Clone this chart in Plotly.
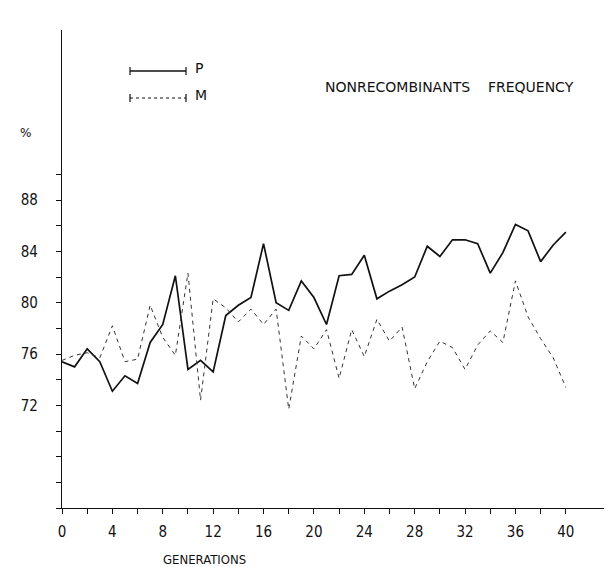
import plotly.graph_objects as go

generations = list(range(0, 41))
p_values = [75.4, 75.0, 76.4, 75.4, 73.1, 74.3, 73.7, 76.9, 78.3, 82.1,
            74.8, 75.5, 74.6, 79.0, 79.8, 80.4, 84.6, 80.0, 79.4, 81.7,
            80.4, 78.3, 82.1, 82.2, 83.7, 80.3, 80.9, 81.4, 82.0, 84.4,
            83.6, 84.9, 84.9, 84.6, 82.3, 83.9, 86.1, 85.6, 83.2, 84.5, 85.5]
m_values = [75.5, 75.9, 76.1, 75.7, 78.2, 75.4, 75.6, 79.8, 77.3, 75.9,
            82.3, 72.4, 80.3, 79.6, 78.5, 79.5, 78.3, 79.5, 71.7, 77.4,
            76.4, 77.9, 74.1, 77.9, 75.8, 78.7, 77.0, 78.1, 73.3, 75.4,
            77.0, 76.5, 74.8, 76.7, 77.8, 76.9, 81.7, 78.9, 77.2, 75.7, 73.4]
x_tick_labels = [0, 4, 8, 12, 16, 20, 24, 28, 32, 36, 40]
x_minor_ticks = list(range(0, 41, 2))
y_tick_labels = [72, 76, 80, 84, 88]
y_minor_ticks = list(range(64, 91, 2))

FONT = "Liberation Sans Narrow, DejaVu Sans Condensed, Liberation Sans, sans-serif"
TFONT = "DejaVu Sans, Liberation Sans, sans-serif"

# plot area in pixels
L, T, B = 54, 22, 500
W, H = 612 - L, B - T


def px_x(p):
    return (p - L) / W


def px_y(p):
    return 1 + (T - p) / H


fig = go.Figure()
fig.add_trace(go.Scatter(x=generations, y=p_values, mode="lines", name="P",
                         line=dict(color="#111111", width=1.7), showlegend=False))
fig.add_trace(go.Scatter(x=generations, y=m_values, mode="lines", name="M",
                         line=dict(color="#333333", width=1, dash="4px,4px"), showlegend=False))

fig.update_layout(
    width=612, height=567,
    margin=dict(l=L, r=0, t=T, b=567 - B),
    paper_bgcolor="white", plot_bgcolor="white",
    font=dict(family=FONT, size=15, color="#111111"),
    xaxis=dict(range=[0, 44.3], showgrid=False, zeroline=False,
               showline=True, linecolor="#111111", linewidth=1.3,
               tickmode="array", tickvals=x_tick_labels,
               ticktext=[str(v) for v in x_tick_labels],
               ticks="outside", ticklen=5, tickcolor="#111111",
               ticklabelstandoff=5,
               minor=dict(tickmode="array", tickvals=x_minor_ticks, ticks="outside",
                          ticklen=5, tickcolor="#111111")),
    yaxis=dict(range=[64, 101.25], showgrid=False, zeroline=False,
               showline=True, linecolor="#111111", linewidth=1.3,
               tickmode="array", tickvals=y_tick_labels,
               ticktext=[str(v) for v in y_tick_labels],
               ticks="outside", ticklen=5, tickcolor="#111111",
               ticklabelstandoff=15,
               minor=dict(tickmode="array", tickvals=y_minor_ticks, ticks="outside",
                          ticklen=5, tickcolor="#111111")),
)

# chart title text
fig.add_annotation(text="NONRECOMBINANTS&nbsp;&nbsp;&nbsp;&nbsp;FREQUENCY", xref="paper", yref="paper",
                   x=px_x(568), xanchor="right", y=px_y(79), yanchor="middle",
                   showarrow=False, font=dict(family=TFONT, size=14))

# y unit label
fig.add_annotation(text="%", xref="paper", yref="paper", x=px_x(17), y=px_y(125),
                   xanchor="center", yanchor="middle", showarrow=False,
                   font=dict(family=TFONT, size=12))
# x axis title
fig.add_annotation(text="GENERATIONS", xref="paper", yref="paper", x=px_x(196),
                   y=px_y(551), xanchor="center", yanchor="middle", showarrow=False,
                   font=dict(family="DejaVu Sans Condensed, Liberation Sans", size=13))

# legend samples (|---| style)
for label, ly, dash, w in [("P", 63, "solid", 1.5), ("M", 90, "dot", 1)]:
    fig.add_shape(type="line", xref="paper", yref="paper", x0=px_x(122), x1=px_x(178),
                  y0=px_y(ly), y1=px_y(ly), line=dict(color="#111111", width=w, dash=dash))
    for xe in (122, 178):
        fig.add_shape(type="line", xref="paper", yref="paper", x0=px_x(xe), x1=px_x(xe),
                      y0=px_y(ly - 4), y1=px_y(ly + 4), line=dict(color="#111111", width=1.2))
    fig.add_annotation(text=label, xref="paper", yref="paper", x=px_x(185), y=px_y(ly - 3),
                       xanchor="left", yanchor="middle", showarrow=False,
                       font=dict(family=TFONT, size=14))

fig.write_html("out.html")
